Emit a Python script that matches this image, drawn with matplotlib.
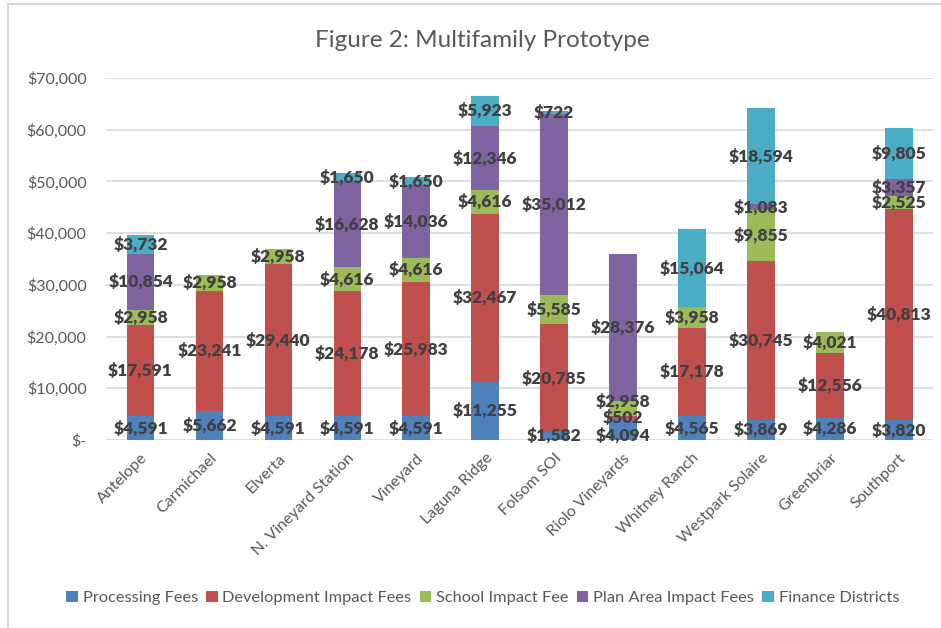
import matplotlib.pyplot as plt
import matplotlib.patches as patches
import numpy as np

plt.rcParams['font.family'] = ['Lato', 'DejaVu Sans']

areas = ['Antelope', 'Carmichael', 'Elverta', 'N. Vineyard Station', 'Vineyard',
         'Laguna Ridge', 'Folsom SOI', 'Riolo Vineyards', 'Whitney Ranch',
         'Westpark Solaire', 'Greenbriar', 'Southport']

processing = [4591, 5662, 4591, 4591, 4591, 11255, 1582, 4094, 4565, 3869, 4286, 3820]
development = [17591, 23241, 29440, 24178, 25983, 32467, 20785, 502, 17178, 30745, 12556, 40813]
school = [2958, 2958, 2958, 4616, 4616, 4616, 5585, 2958, 3958, 9855, 4021, 2525]
plan_area = [10854, 0, 0, 16628, 14036, 12346, 35012, 28376, 0, 1083, 0, 3357]
finance = [3732, 0, 0, 1650, 1650, 5923, 722, 0, 15064, 18594, 0, 9805]

series = [
    ('Processing Fees', processing, '#4F81BD'),
    ('Development Impact Fees', development, '#C0504D'),
    ('School Impact Fee', school, '#9BBB59'),
    ('Plan Area Impact Fees', plan_area, '#8064A2'),
    ('Finance Districts', finance, '#4BACC6'),
]

fig = plt.figure(figsize=(9.41, 6.28), dpi=100)
ax = fig.add_axes([0.1127, 0.2994, 0.879, 0.5764])

x = np.arange(len(areas))
bottom = np.zeros(len(areas))
labels = [[] for _ in areas]  # (y, value) per bar
for name, vals, color in series:
    vals = np.array(vals, dtype=float)
    ax.bar(x, vals, 0.4, bottom=bottom, color=color, label=name, zorder=3)
    for i, (b, v) in enumerate(zip(bottom, vals)):
        if v > 0:
            labels[i].append([b + v / 2, v])
    bottom += vals


def spread(items, close=2500, gap=3300):
    # push apart labels that sit on top of each other, like Excel does
    groups = []
    for it in items:
        if groups and it[0] - groups[-1][-1][0] < close:
            groups[-1].append(it)
        else:
            groups.append([it])
    out = []
    for g in groups:
        if len(g) > 1:
            mid = np.mean([it[0] for it in g])
            start = mid - gap * (len(g) - 1) / 2
            g = [[start + k * gap, it[1]] for k, it in enumerate(g)]
        out.extend(g)
    return out


for xi, items in zip(x, labels):
    for y, v in spread(items):
        ax.text(xi, y, f'${v:,.0f}', ha='center', va='center',
                fontsize=12.5, fontweight='heavy', color='#404040', zorder=4)

ax.set_xlim(-0.5, len(areas) - 0.5)
ax.set_ylim(0, 70000)
ax.set_yticks(np.arange(0, 70001, 10000))
ax.set_yticklabels(['$-'] + [f'${v:,.0f}' for v in range(10000, 70001, 10000)])
ax.set_xticks(x)
ax.set_xticklabels(areas, rotation=45, ha='right', rotation_mode='anchor')

ax.grid(axis='y', color='#D9D9D9', linewidth=1.2, zorder=0)
for s in ax.spines.values():
    s.set_visible(False)
ax.tick_params(axis='both', length=0, labelsize=11.5, labelcolor='#595959')
ax.tick_params(axis='y', pad=14)
ax.tick_params(axis='x', pad=8)

fig.text(0.513, 0.936, 'Figure 2: Multifamily Prototype', ha='center', va='center',
         fontsize=17.5, color='#595959')

fig.legend(loc='center', bbox_to_anchor=(0.513, 0.048), ncol=5, frameon=False,
           fontsize=11.8, labelcolor='#595959', handlelength=0.7, handleheight=0.7,
           handletextpad=0.3, columnspacing=0.5)

# chart area border (cut off at right and bottom)
fig.patches.append(patches.Rectangle((8 / 941, -0.1), 1.2, 1.1 - 4 / 628,
                                     transform=fig.transFigure, fill=False,
                                     edgecolor='#D9D9D9', linewidth=1.5))

fig.savefig('out.png', dpi=100)
